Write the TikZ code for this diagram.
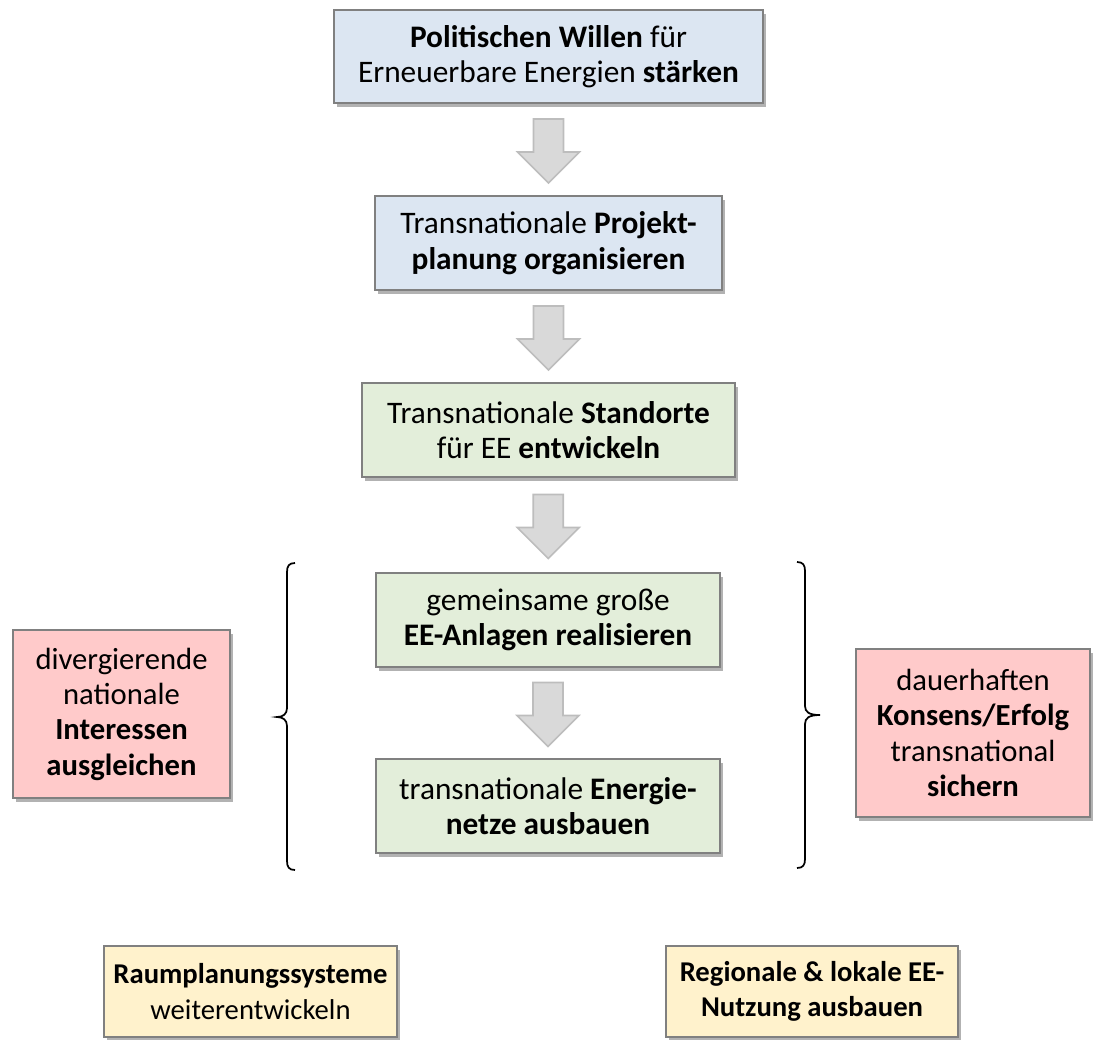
\documentclass[tikz,border=0pt]{standalone}
\usepackage{fontspec}
\setmainfont{Carlito}
\usetikzlibrary{shadows,calc}
\newcommand\px[1]{#1*0.75pt}
\definecolor{bluefill}{HTML}{DCE6F2}
\definecolor{greenfill}{HTML}{E3EEDA}
\definecolor{pinkfill}{HTML}{FFCACA}
\definecolor{yellowfill}{HTML}{FFF2CC}
\definecolor{boxline}{HTML}{808080}
\definecolor{arrfill}{HTML}{D9D9D9}
\definecolor{arrline}{HTML}{BDBDBD}
\tikzset{
  box/.style={draw=boxline, line width=1.4pt, align=center, inner sep=0pt,
    font=\fontsize{23.5}{26.5}\selectfont,
    drop shadow={shadow xshift=2.5pt, shadow yshift=-3pt, fill=black, opacity=0.3}},
  bluebox/.style={box, fill=bluefill},
  greenbox/.style={box, fill=greenfill},
  pinkbox/.style={box, fill=pinkfill, font=\fontsize{23}{26.5}\selectfont},
  yellowbox/.style={box, fill=yellowfill, font=\fontsize{21.5}{26.5}\selectfont},
  bracestyle/.style={draw=black, line width=1.3pt},
  downarr/.pic={
    \filldraw[fill=arrfill, draw=arrline, line width=1.2pt, line join=miter]
      (-15,-32) -- (15,-32) -- (15,1) -- (31,1) -- (0,32) -- (-31,1) -- (-15,1) -- cycle;
  }
}
\begin{document}
\begin{tikzpicture}[x=0.75pt, y=-0.75pt]
\useasboundingbox (0,0) rectangle (1094,1039);

\node[bluebox, minimum width=\px{429}, minimum height=\px{93}] (b1) at (548.5,56.5)
  {\textbf{Politischen Willen} für\\Erneuerbare Energien \textbf{stärken}};
\node[bluebox, minimum width=\px{347}, minimum height=\px{94}] (b2) at (548.5,243)
  {Transnationale \textbf{Projekt-}\\\textbf{planung organisieren}};
\node[greenbox, minimum width=\px{373}, minimum height=\px{94}] (b3) at (548.5,430)
  {Transnationale \textbf{Standorte}\\für EE \textbf{entwickeln}};
\node[greenbox, minimum width=\px{344}, minimum height=\px{94}] (b4) at (548,620)
  {gemeinsame große\\\textbf{EE-Anlagen realisieren}};
\node[greenbox, minimum width=\px{344}, minimum height=\px{94}] (b5) at (548,806)
  {transnationale \textbf{Energie-}\\\textbf{netze ausbauen}};

\node[pinkbox, minimum width=\px{217}, minimum height=\px{168}] (lt) at (121.5,714)
  {divergierende\\nationale\\\textbf{Interessen}\\\textbf{ausgleichen}};
\node[pinkbox, minimum width=\px{234}, minimum height=\px{168}] (rt) at (973,733)
  {dauerhaften\\\textbf{Konsens/Erfolg}\\transnational\\\textbf{sichern}};

\node[yellowbox, minimum width=\px{293}, minimum height=\px{91}] (bl) at (250.5,991.5)
  {\textbf{Raumplanungssysteme}\\weiterentwickeln};
\node[yellowbox, minimum width=\px{292}, minimum height=\px{91}] (br) at (812,991.5)
  {\textbf{Regionale \& lokale EE-}\\\textbf{Nutzung ausbauen}};

\pic at ($($(b1.south)!0.5!(b2.north)$)+(0,1.5)$) {downarr};
\pic at ($($(b2.south)!0.5!(b3.north)$)+(0,1.5)$) {downarr};
\pic at ($($(b3.south)!0.5!(b4.north)$)+(0,1.5)$) {downarr};
\pic at ($($(b4.south)!0.5!(b5.north)$)+(0,1.5)$) {downarr};

% braces
\draw[bracestyle] (295,563) .. controls (289,563) and (287,566) .. (287,572)
  -- (287,708) .. controls (287,714) and (283,717) .. (277,717)
  .. controls (283,717) and (287,720) .. (287,726)
  -- (287,861) .. controls (287,867) and (289,870) .. (295,870);
\draw[bracestyle] (797,562) .. controls (803,562) and (805,565) .. (805,571)
  -- (805,706) .. controls (805,712) and (809,715) .. (820,715)
  .. controls (809,715) and (805,718) .. (805,724)
  -- (805,859) .. controls (805,865) and (803,868) .. (797,868);
\end{tikzpicture}
\end{document}
